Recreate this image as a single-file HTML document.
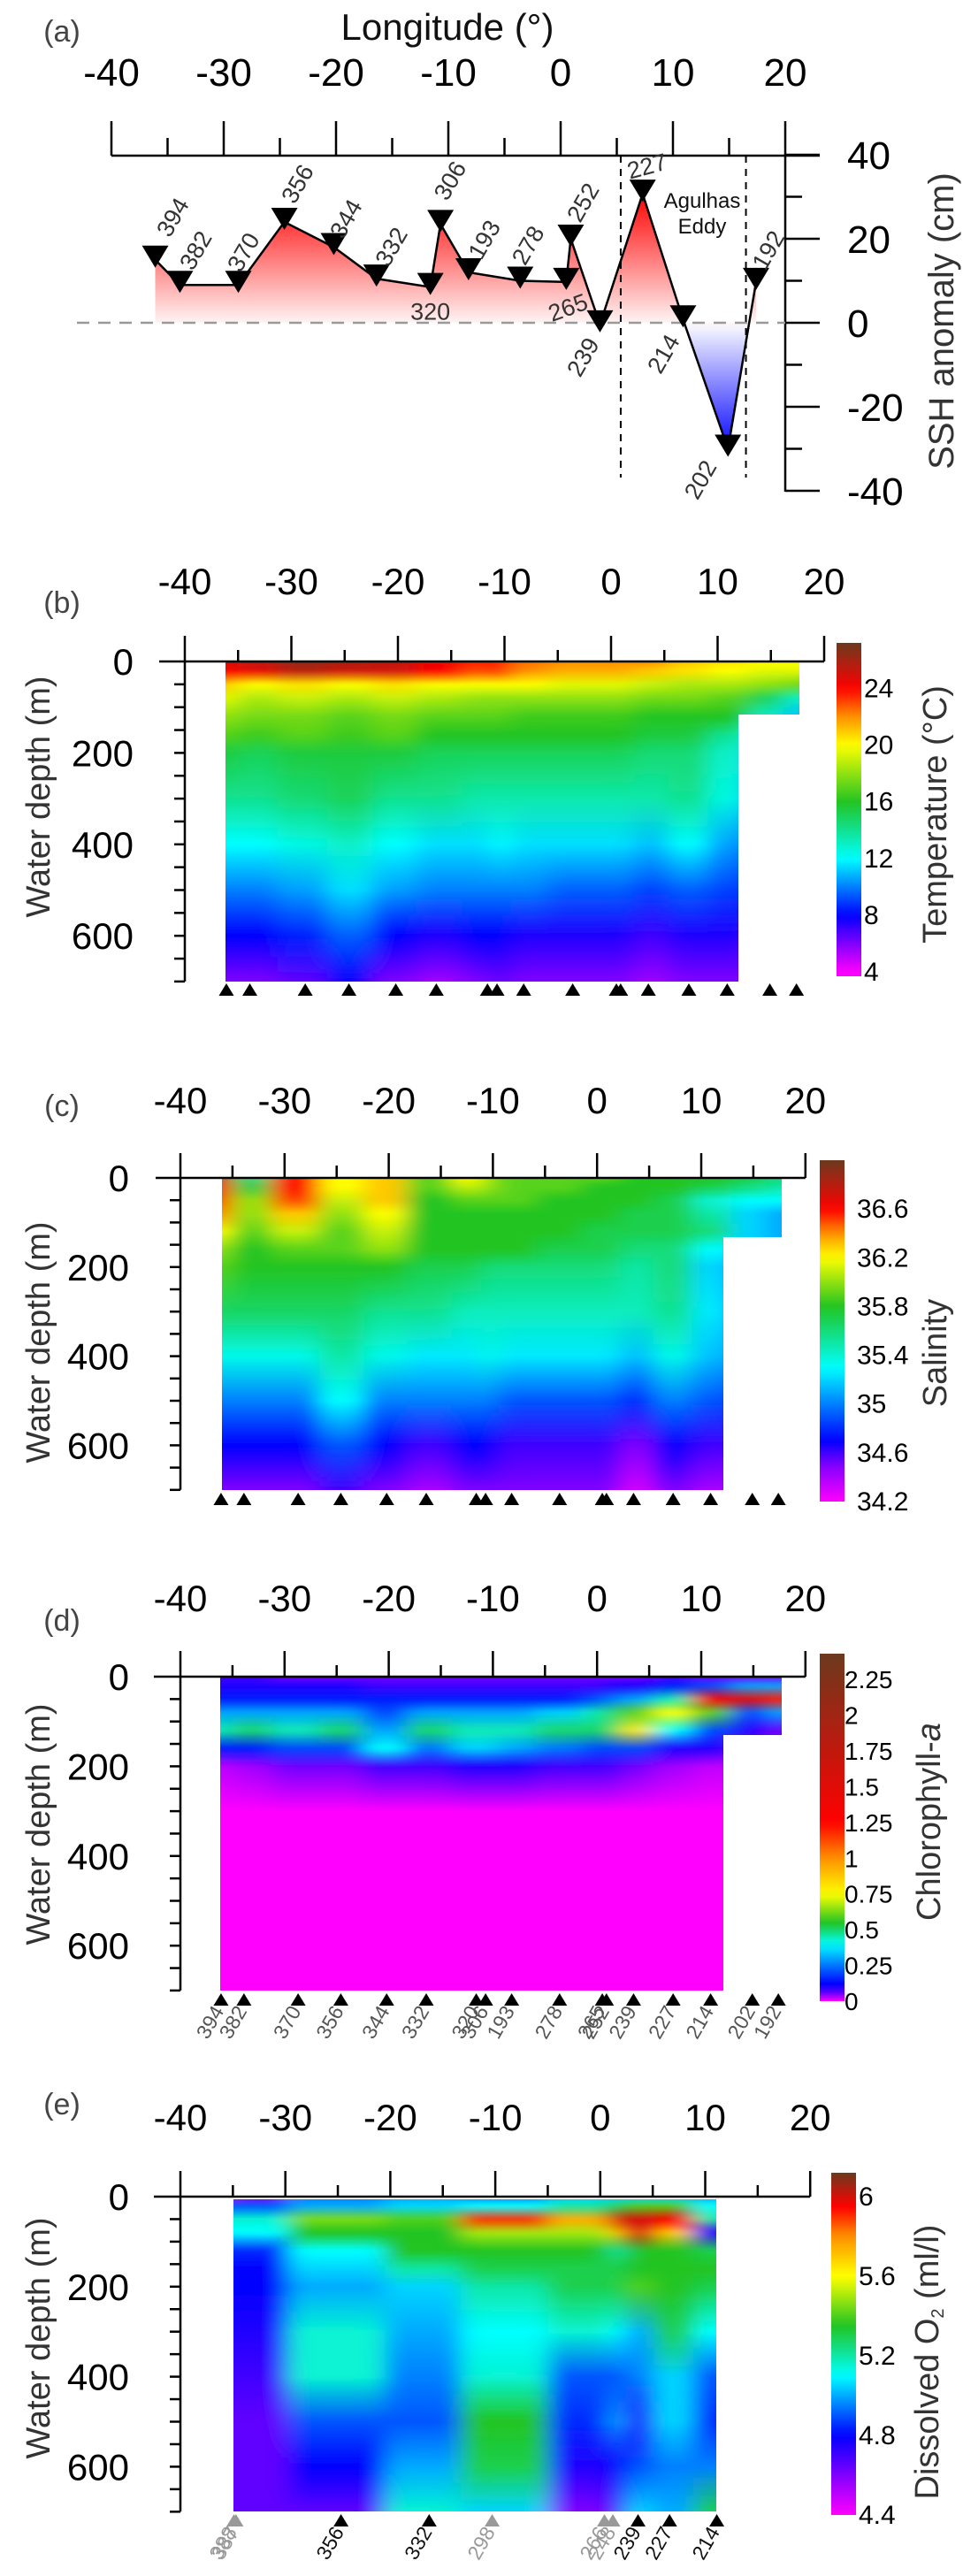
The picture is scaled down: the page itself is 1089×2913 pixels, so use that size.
<!DOCTYPE html>
<html><head><meta charset="utf-8"><style>
html,body{margin:0;padding:0;background:#fff;}
svg{display:block;font-family:"Liberation Sans",Arial,sans-serif;}
</style></head><body>
<svg id="fig" xmlns="http://www.w3.org/2000/svg" width="1089" height="2913" viewBox="0 0 1089 2913">
<defs id="defs">
<filter id="hblur" x="-10%" y="-5%" width="120%" height="110%"><feGaussianBlur stdDeviation="13 2"/></filter>
<linearGradient id="ssh-fill" gradientUnits="userSpaceOnUse" x1="0" y1="218" x2="0" y2="512">
<stop offset="0" stop-color="#ff0000"/><stop offset="0.5" stop-color="#fff4f4"/><stop offset="0.52" stop-color="#f4f4ff"/><stop offset="1" stop-color="#0000ff"/>
</linearGradient>
</defs>
</svg>
<script>
// ---------- DATA ----------
const sshStations=['394','382','370','356','344','332','320','306','193','278','265','252','239','227','214','202','192'];
const sshLon=[-36.1,-33.9,-28.7,-24.6,-20.2,-16.4,-11.6,-10.7,-8.2,-3.6,0.5,0.9,3.5,7.3,10.9,14.9,17.4];
const sshVal=[15,9,9,24,18,10.5,8.5,23.5,12,10,9.7,20,-0.4,30.7,0.8,-30,9.7];
const sshLabelDx=[20,18,6,15,14,17,0,11,18,9,2,14,-19,5,-22,-31,14];
const sshLabelDy=[-48,-39,-37,-43,-32,-36,28,-49,-37,-40,29,-41,37,-31,39,35,-36];
const sshLabelRot=[-60,-60,-60,-60,-60,-60,0,-60,-60,-60,-20,-60,-60,-15,-60,-60,-60];
const eddyLon=[5.35,16.5];
const lonTicks=[-40,-30,-20,-10,0,10,20];
const sshTicks=[40,20,0,-20,-40];
const depthTicks=[0,200,400,600];

const depths=[0,20,50,80,120,160,200,300,400,500,600,700];
const secLon=[-36.1,-33.9,-28.7,-24.6,-20.2,-16.4,-11.6,-10.7,-8.2,-3.6,0.5,0.9,3.5,7.3,10.9,14.9,17.4];
const tempGrid=[
[25,24,21,19.5,18,17,15.5,14,12,10,8,6],
[25.5,24.5,20,18.5,17.5,16.5,15,14,12,10,8,6],
[26.5,25.5,20.5,19,17.5,17,15.5,14.5,12.5,10.5,8.5,6.5],
[26,25,20,18.5,17,16.5,15.5,15,13,11.5,9.5,8],
[25.5,25,20.5,19,17.5,17,15.5,14,12,10.5,8,6],
[24.5,24,20,18.5,17,16,15,14,11.5,10,7.5,5.5],
[23.5,23,20,18,17,16,15,13.5,11.5,10,8,6],
[24,23.5,20,18,17,16,15,13.5,12,10,8,6.5],
[22.5,22,20,18,16.5,16,15,13.5,11.5,10,7.5,6],
[22,21.5,19.5,18,16.5,16,15,13.5,11.5,9.5,7.5,6],
[22,21.5,19.5,18,16.5,16,15,13.5,11.5,9.5,7.5,6],
[22,21.5,19.5,18,16.5,16,15,13.5,11.5,9.5,7.5,6],
[22,21,19,17.5,16,15.5,14.5,13.5,11,9,7,5.5],
[21,20.5,18.5,17.5,16,15.5,14.5,14,12,9.5,7.5,6],
[20.5,20,18.5,17,16,14,13,12.5,10.5,9,7.5,6],
[20,19.5,18,15,13,12,11,10,9,8,7,6],
[20,19.5,17.5,13,11,10,10,9,8,7,6,5]];
const salGrid=[
[36.7,36.6,36.5,36.4,36.2,36.0,35.9,35.65,35.35,35.0,34.7,34.5],
[35.6,35.7,36.0,36.0,35.9,35.8,35.8,35.65,35.35,35.0,34.7,34.5],
[36.6,36.6,36.5,36.3,36.1,35.9,35.8,35.65,35.35,35.0,34.7,34.5],
[36.2,36.2,36.1,36.0,35.9,35.9,35.8,35.65,35.5,35.3,34.9,34.6],
[36.3,36.3,36.3,36.2,36.1,36.0,35.8,35.55,35.35,35.0,34.7,34.5],
[35.9,35.9,35.8,35.8,35.8,35.8,35.7,35.55,35.25,35.0,34.6,34.4],
[36.2,36.1,35.9,35.8,35.8,35.8,35.7,35.45,35.25,35.0,34.7,34.5],
[36.0,36.0,35.9,35.8,35.8,35.8,35.6,35.45,35.35,35.0,34.7,34.5],
[35.9,35.9,35.9,35.8,35.8,35.8,35.6,35.45,35.25,34.9,34.6,34.5],
[35.9,35.9,35.8,35.8,35.8,35.7,35.6,35.45,35.25,34.9,34.6,34.5],
[35.9,35.8,35.8,35.8,35.7,35.7,35.6,35.45,35.25,34.9,34.6,34.5],
[35.9,35.8,35.8,35.8,35.7,35.7,35.6,35.45,35.25,34.9,34.6,34.5],
[35.8,35.8,35.8,35.7,35.7,35.6,35.5,35.45,35.15,34.8,34.5,34.3],
[35.8,35.8,35.7,35.7,35.7,35.6,35.6,35.55,35.35,35.0,34.7,34.5],
[35.8,35.7,35.4,35.5,35.6,35.3,35.2,35.25,35.15,34.9,34.6,34.4],
[35.7,35.6,35.3,35.2,35.2,35.2,35.0,35.0,35.0,34.8,34.6,34.4],
[35.6,35.5,35.3,35.1,35.1,35.1,35.0,35.0,35.0,34.8,34.6,34.4]];
const chlGrid=[
[0.08,0.1,0.15,0.3,0.45,0.15,0.02,0,0,0,0,0],
[0.08,0.1,0.15,0.3,0.5,0.15,0.03,0,0,0,0,0],
[0.05,0.1,0.15,0.3,0.45,0.2,0.05,0,0,0,0,0],
[0.05,0.1,0.15,0.3,0.5,0.2,0.05,0,0,0,0,0],
[0.05,0.08,0.15,0.2,0.3,0.4,0.08,0,0,0,0,0],
[0.05,0.08,0.15,0.3,0.5,0.25,0.08,0,0,0,0,0],
[0.05,0.08,0.15,0.3,0.45,0.35,0.1,0,0,0,0,0],
[0.05,0.08,0.15,0.3,0.45,0.35,0.1,0,0,0,0,0],
[0.05,0.08,0.15,0.3,0.45,0.3,0.1,0,0,0,0,0],
[0.05,0.08,0.15,0.35,0.5,0.25,0.08,0,0,0,0,0],
[0.05,0.08,0.2,0.45,0.5,0.2,0.08,0,0,0,0,0],
[0.05,0.1,0.25,0.5,0.5,0.2,0.08,0,0,0,0,0],
[0.05,0.1,0.3,0.6,0.8,0.2,0.05,0,0,0,0,0],
[0.08,0.15,0.45,0.75,0.4,0.1,0.03,0,0,0,0,0],
[0.05,0.2,1.3,0.6,0.2,0.1,0.02,0,0,0,0,0],
[0.05,0.3,1.5,0.2,0.1,0.05,0.02,0,0,0,0,0],
[0.05,0.3,1.2,0.3,0.05,0.05,0.02,0,0,0,0,0]];
const oxyStations=['388','387','356','332','298','266','248','239','227','214'];
const oxyGray=[true,true,false,false,true,true,true,false,false,false];
const oxyLon=[-34.9,-34.7,-24.7,-16.3,-10.3,0.4,1.2,3.6,6.6,11.1];
const oxyGrid=[
[4.5,4.9,5.15,5.1,4.85,4.8,4.8,4.75,4.7,4.65,4.65,4.65],
[4.6,4.9,5.15,5.1,4.85,4.8,4.8,4.75,4.7,4.65,4.65,4.65],
[4.95,5.0,5.45,5.35,5.1,5.05,5.0,5.15,5.15,4.9,4.8,4.65],
[5.0,5.05,5.4,5.35,5.35,5.2,5.05,5.0,4.95,4.9,5.0,5.15],
[4.95,5.1,5.9,5.5,5.35,5.3,5.2,5.1,5.15,5.35,5.3,5.05],
[5.05,5.2,5.75,5.5,5.35,5.3,5.3,5.15,4.9,4.85,4.75,4.6],
[5.05,5.3,6.0,5.7,5.2,5.3,5.3,5.1,4.9,5.0,4.8,4.7],
[5.05,5.4,6.0,6.0,5.35,5.35,5.4,5.0,4.95,4.75,4.9,5.05],
[5.05,5.4,5.95,5.7,5.35,5.35,5.35,5.3,5.05,5.05,4.95,5.0],
[5.0,5.1,5.2,4.75,5.3,5.35,5.3,5.1,4.9,4.85,4.95,5.3]];
const tempCbTicks=['4','8','12','16','20','24'];
const salCbTicks=['34.2','34.6','35','35.4','35.8','36.2','36.6'];
const chlCbTicks=['0','0.25','0.5','0.75','1','1.25','1.5','1.75','2','2.25'];
const oxyCbTicks=['4.4','4.8','5.2','5.6','6'];
const tempCmV=[4,6,8,12,16,20,22,24,27.2];
const salCmV=[34.2,34.5,34.7,35.3,35.8,36.2,36.4,36.6,37.0];
const chlCmV=[0,0.04,0.12,0.4,0.55,0.75,1.0,1.25,2.43];
const oxyCmV=[4.4,4.6,4.8,5.1,5.35,5.6,5.8,5.95,6.12];
const cmC=['#ff00ff','#8000ff','#0000ff','#00ffff','#22c422','#ffff00','#ff9000','#ff0000','#6b3a1e'];

// ---------- HELPERS ----------
const NS='http://www.w3.org/2000/svg';
const svg=document.getElementById('fig');
const defs=document.getElementById('defs');
function mk(tag,attrs,parent){const e=document.createElementNS(NS,tag);for(const k in attrs)e.setAttribute(k,attrs[k]);(parent||svg).appendChild(e);return e;}
function hex(c){return [parseInt(c.substr(1,2),16),parseInt(c.substr(3,2),16),parseInt(c.substr(5,2),16)];}
function cmap(vs,v){
  if(v<=vs[0])return cmC[0];
  for(let i=1;i<vs.length;i++){if(v<=vs[i]){const t=(v-vs[i-1])/(vs[i]-vs[i-1]);const a=hex(cmC[i-1]),b=hex(cmC[i]);
    return 'rgb('+a.map((q,k)=>Math.round(q+(b[k]-q)*t)).join(',')+')';}}
  return cmC[cmC.length-1];
}
function txt(s,attrs,parent){const e=mk('text',attrs,parent);e.textContent=s;return e;}

// ---------- PANEL A ----------
const xA=lon=>126+(lon+40)*12.7;
const yA=v=>365-v*4.75;
let e;
e=txt('(a)',{x:70,y:47,'font-size':34,fill:'#444','text-anchor':'middle'});


e=txt('Longitude (°)',{x:506,y:45,'font-size':42,fill:'#111','text-anchor':'middle'});


const axA=mk('g',{stroke:'#000','stroke-width':2.5,fill:'none'});


e=mk('line',{x1:126,y1:176,x2:927,y2:176},axA);


for(let L=-40;L<=20;L+=5){
  e=mk('line',{x1:xA(L),y1:176,x2:xA(L),y2:(L%10===0)?137:156},axA);
  
  
}
lonTicks.forEach(L=>{
  e=txt(String(L),{x:xA(L),y:97,'font-size':44,'text-anchor':'middle',fill:'#000'});
  
  
});
e=mk('line',{x1:888,y1:176,x2:888,y2:556},axA);


for(let v=-40;v<=40;v+=10){
  e=mk('line',{x1:888,y1:yA(v),x2:(v%20===0)?927:907,y2:yA(v)},axA);
  
  
}
sshTicks.forEach(v=>{
  e=txt(String(v),{x:958,y:yA(v)+16,'font-size':44,fill:'#000'});
  
  
});
e=txt('SSH anomaly (cm)',{x:0,y:0,'font-size':40,fill:'#333','text-anchor':'middle',transform:'translate(1078,363) rotate(-90)'});


let pts=xA(sshLon[0])+','+yA(0)+' ';
sshLon.forEach((L,i)=>{pts+=xA(L)+','+yA(sshVal[i])+' ';});
pts+=xA(sshLon[sshLon.length-1])+','+yA(0);
e=mk('polygon',{points:pts,fill:'url(#ssh-fill)',stroke:'none'});


e=mk('line',{x1:87,y1:yA(0),x2:888,y2:yA(0),stroke:'#999','stroke-width':2.5,'stroke-dasharray':'14 10'});


eddyLon.forEach(L=>{
  e=mk('line',{x1:xA(L),y1:176,x2:xA(L),y2:540,stroke:'#000','stroke-width':2,'stroke-dasharray':'8 7'});
  
  
});
e=mk('polyline',{points:sshLon.map((L,i)=>xA(L)+','+yA(sshVal[i])).join(' '),fill:'none',stroke:'#000','stroke-width':2.5});


sshLon.forEach((L,i)=>{
  const x=xA(L),y=yA(sshVal[i]);
  e=mk('polygon',{points:`${x-15},${y-16} ${x+15},${y-16} ${x},${y+9}`,fill:'#000'});
  
  
  e=txt(sshStations[i],{x:0,y:0,'font-size':27,fill:'#333','text-anchor':'middle','dominant-baseline':'central',transform:`translate(${x+sshLabelDx[i]},${y+sshLabelDy[i]}) rotate(${sshLabelRot[i]})`});
  
  
});
e=txt('Agulhas',{x:794,y:235,'font-size':24,fill:'#111','text-anchor':'middle'});


e=txt('Eddy',{x:794,y:264,'font-size':24,fill:'#111','text-anchor':'middle'});



// ---------- SECTION PANELS ----------
function section(P){
  const x=L=>P.x0+(L+40)*P.ppd;
  const y=d=>P.d0+d*P.ppm;
  const cp=mk('clipPath',{id:P.id+'-clip'},defs);
  mk('polygon',{points:P.clip},cp);
  const outer=mk('g',{'clip-path':`url(#${P.id}-clip)`});
  
  
  const inner=mk('g',{filter:'url(#hblur)'},outer);
  P.lons.forEach((L,i)=>{
    const xc=x(L);
    const xl=i===0?xc-150:(xc+x(P.lons[i-1]))/2;
    const xr=i===P.lons.length-1?xc+150:(xc+x(P.lons[i+1]))/2;
    const gid=P.id+'-g'+i;
    const g=mk('linearGradient',{id:gid,gradientUnits:'userSpaceOnUse',x1:0,x2:0,y1:y(0),y2:y(700)},defs);
    depths.forEach((d,k)=>{mk('stop',{offset:d/700,'stop-color':cmap(P.cmV,P.grid[i][k])},g);});
    e=mk('rect',{x:xl,y:y(0)-30,width:xr-xl+0.6,height:y(700)-y(0)+60,fill:`url(#${gid})`},inner);
    
    
  });
  const ax=mk('g',{stroke:'#000','stroke-width':2.5,fill:'none'});
  
  
  e=mk('line',{x1:P.lineStart,y1:P.axisY,x2:x(20),y2:P.axisY},ax);
  
  
  for(let L=-40;L<=20;L+=5){
    e=mk('line',{x1:x(L),y1:P.axisY,x2:x(L),y2:(L%10===0)?P.majTop:P.minTop},ax);
    
    
  }
  lonTicks.forEach(L=>{
    e=txt(String(L),{x:x(L),y:P.labY+15,'font-size':42,'text-anchor':'middle',fill:'#000'});
    
    
  });
  e=mk('line',{x1:x(-40),y1:P.axisY,x2:x(-40),y2:y(700)},ax);
  
  
  for(let d=50;d<=700;d+=50){
    e=mk('line',{x1:x(-40)-12,y1:y(d),x2:x(-40),y2:y(d)},ax);
    
    
  }
  depthTicks.forEach(d=>{
    e=txt(String(d),{x:x(-40)-58,y:y(d)+15,'font-size':42,'text-anchor':'end',fill:'#000'});
    
    
  });
  e=txt('Water depth (m)',{x:0,y:0,'font-size':38,fill:'#333','text-anchor':'middle',transform:`translate(56,${P.wdY}) rotate(-90)`});
  
  
  e=txt(P.letter,{x:70,y:P.letterY+12,'font-size':34,fill:'#444','text-anchor':'middle'});
  
  
  P.stLon.forEach((L,i)=>{
    const xc=x(L),yc=P.triY;
    e=mk('polygon',{points:`${xc-8.5},${yc+7} ${xc+8.5},${yc+7} ${xc},${yc-7}`,fill:P.stGray&&P.stGray[i]?'#999':'#000'});
    
    
    if(P.stNames){
      e=txt(P.stNames[i],{x:0,y:0,'font-size':23,fill:P.stGray&&P.stGray[i]?'#999':(P.stDark?'#111':'#555'),'text-anchor':'end',transform:`translate(${xc+4},${yc+13}) rotate(-60)`});
      
      
    }
  });
  const C=P.cb;
  const cy=v=>C.yBot-(v-C.vBot)*(C.yBot-C.yTop)/(C.vTop-C.vBot);
  const cg=mk('linearGradient',{id:P.id+'-cbg',gradientUnits:'userSpaceOnUse',x1:0,x2:0,y1:C.yBot,y2:C.yTop},defs);
  for(let k=0;k<=40;k++){const v=C.vBot+(C.vTop-C.vBot)*k/40;mk('stop',{offset:k/40,'stop-color':cmap(P.cmV,v)},cg);}
  e=mk('rect',{x:C.x,y:C.yTop,width:C.w,height:C.yBot-C.yTop,fill:`url(#${P.id}-cbg)`});
  
  
  P.cbTicks.forEach(t=>{
    e=txt(t,{x:C.lx,y:cy(parseFloat(t))+10,'font-size':C.fs,fill:'#000'});
    
    
  });
  return {x,y};
}

section({id:'temperature',letter:'(b)',letterY:681,x0:209,ppd:12.05,d0:748,ppm:0.517,axisY:748,majTop:719,minTop:735,labY:657,lineStart:180,
  clip:'255,748 904,748 904,808 835,808 835,1110 255,1110',lons:secLon,grid:tempGrid,cmV:tempCmV,
  stLon:secLon,triY:1119,wdY:901,cbTicks:tempCbTicks,cb:{x:946,w:28,yTop:727,yBot:1104,vBot:3.7,vTop:27.2,lx:977,fs:30}});
e=txt('Temperature (°C)',{x:0,y:0,'font-size':38,fill:'#333','text-anchor':'middle',transform:'translate(1070,921) rotate(-90)'});



section({id:'salinity',letter:'(c)',letterY:1250,x0:204,ppd:11.78,d0:1332,ppm:0.504,axisY:1332,majTop:1304,minTop:1318,labY:1244,lineStart:176,
  clip:'251,1332 884,1332 884,1399 818,1399 818,1685 251,1685',lons:secLon,grid:salGrid,cmV:salCmV,
  stLon:secLon,triY:1695,wdY:1518,cbTicks:salCbTicks,cb:{x:927,w:28,yTop:1312,yBot:1698,vBot:34.2,vTop:37.0,lx:969,fs:30}});
e=txt('Salinity',{x:0,y:0,'font-size':38,fill:'#333','text-anchor':'middle',transform:'translate(1070,1530) rotate(-90)'});



section({id:'chlorophyll',letter:'(d)',letterY:1832,x0:204,ppd:11.78,d0:1896,ppm:0.507,axisY:1896,majTop:1867,minTop:1883,labY:1807,lineStart:174,
  clip:'249,1896 884,1896 884,1962 818,1962 818,2251 249,2251',lons:secLon,grid:chlGrid,cmV:chlCmV,
  stLon:secLon,stNames:sshStations,triY:2261,wdY:2063,cbTicks:chlCbTicks,cb:{x:927,w:28,yTop:1870,yBot:2263,vBot:0,vTop:2.43,lx:955,fs:28}});
const chlT=txt('Chlorophyll-',{x:0,y:0,'font-size':38,fill:'#333','text-anchor':'middle',transform:'translate(1063,2060) rotate(-90)'});


const ts=mk('tspan',{'font-style':'italic'},chlT);ts.textContent='a';

section({id:'oxygen',letter:'(e)',letterY:2379,x0:204,ppd:11.87,d0:2484,ppm:0.509,axisY:2484,majTop:2455,minTop:2471,labY:2394,lineStart:174,
  clip:'264,2487 810,2487 810,2840 264,2840',lons:oxyLon,grid:oxyGrid,cmV:oxyCmV,
  stLon:oxyLon,stNames:oxyStations,stGray:oxyGray,stDark:true,triY:2850,wdY:2644,cbTicks:oxyCbTicks,cb:{x:940,w:28,yTop:2457,yBot:2844,vBot:4.4,vTop:6.12,lx:971,fs:30}});
const oT=txt('Dissolved O',{x:0,y:0,'font-size':38,fill:'#333','text-anchor':'middle',transform:'translate(1061,2671) rotate(-90)'});


const sub=mk('tspan',{'font-size':20,dy:6},oT);sub.textContent='2';
const rest=mk('tspan',{dy:-6},oT);rest.textContent=' (ml/l)';
</script>
</body></html>
